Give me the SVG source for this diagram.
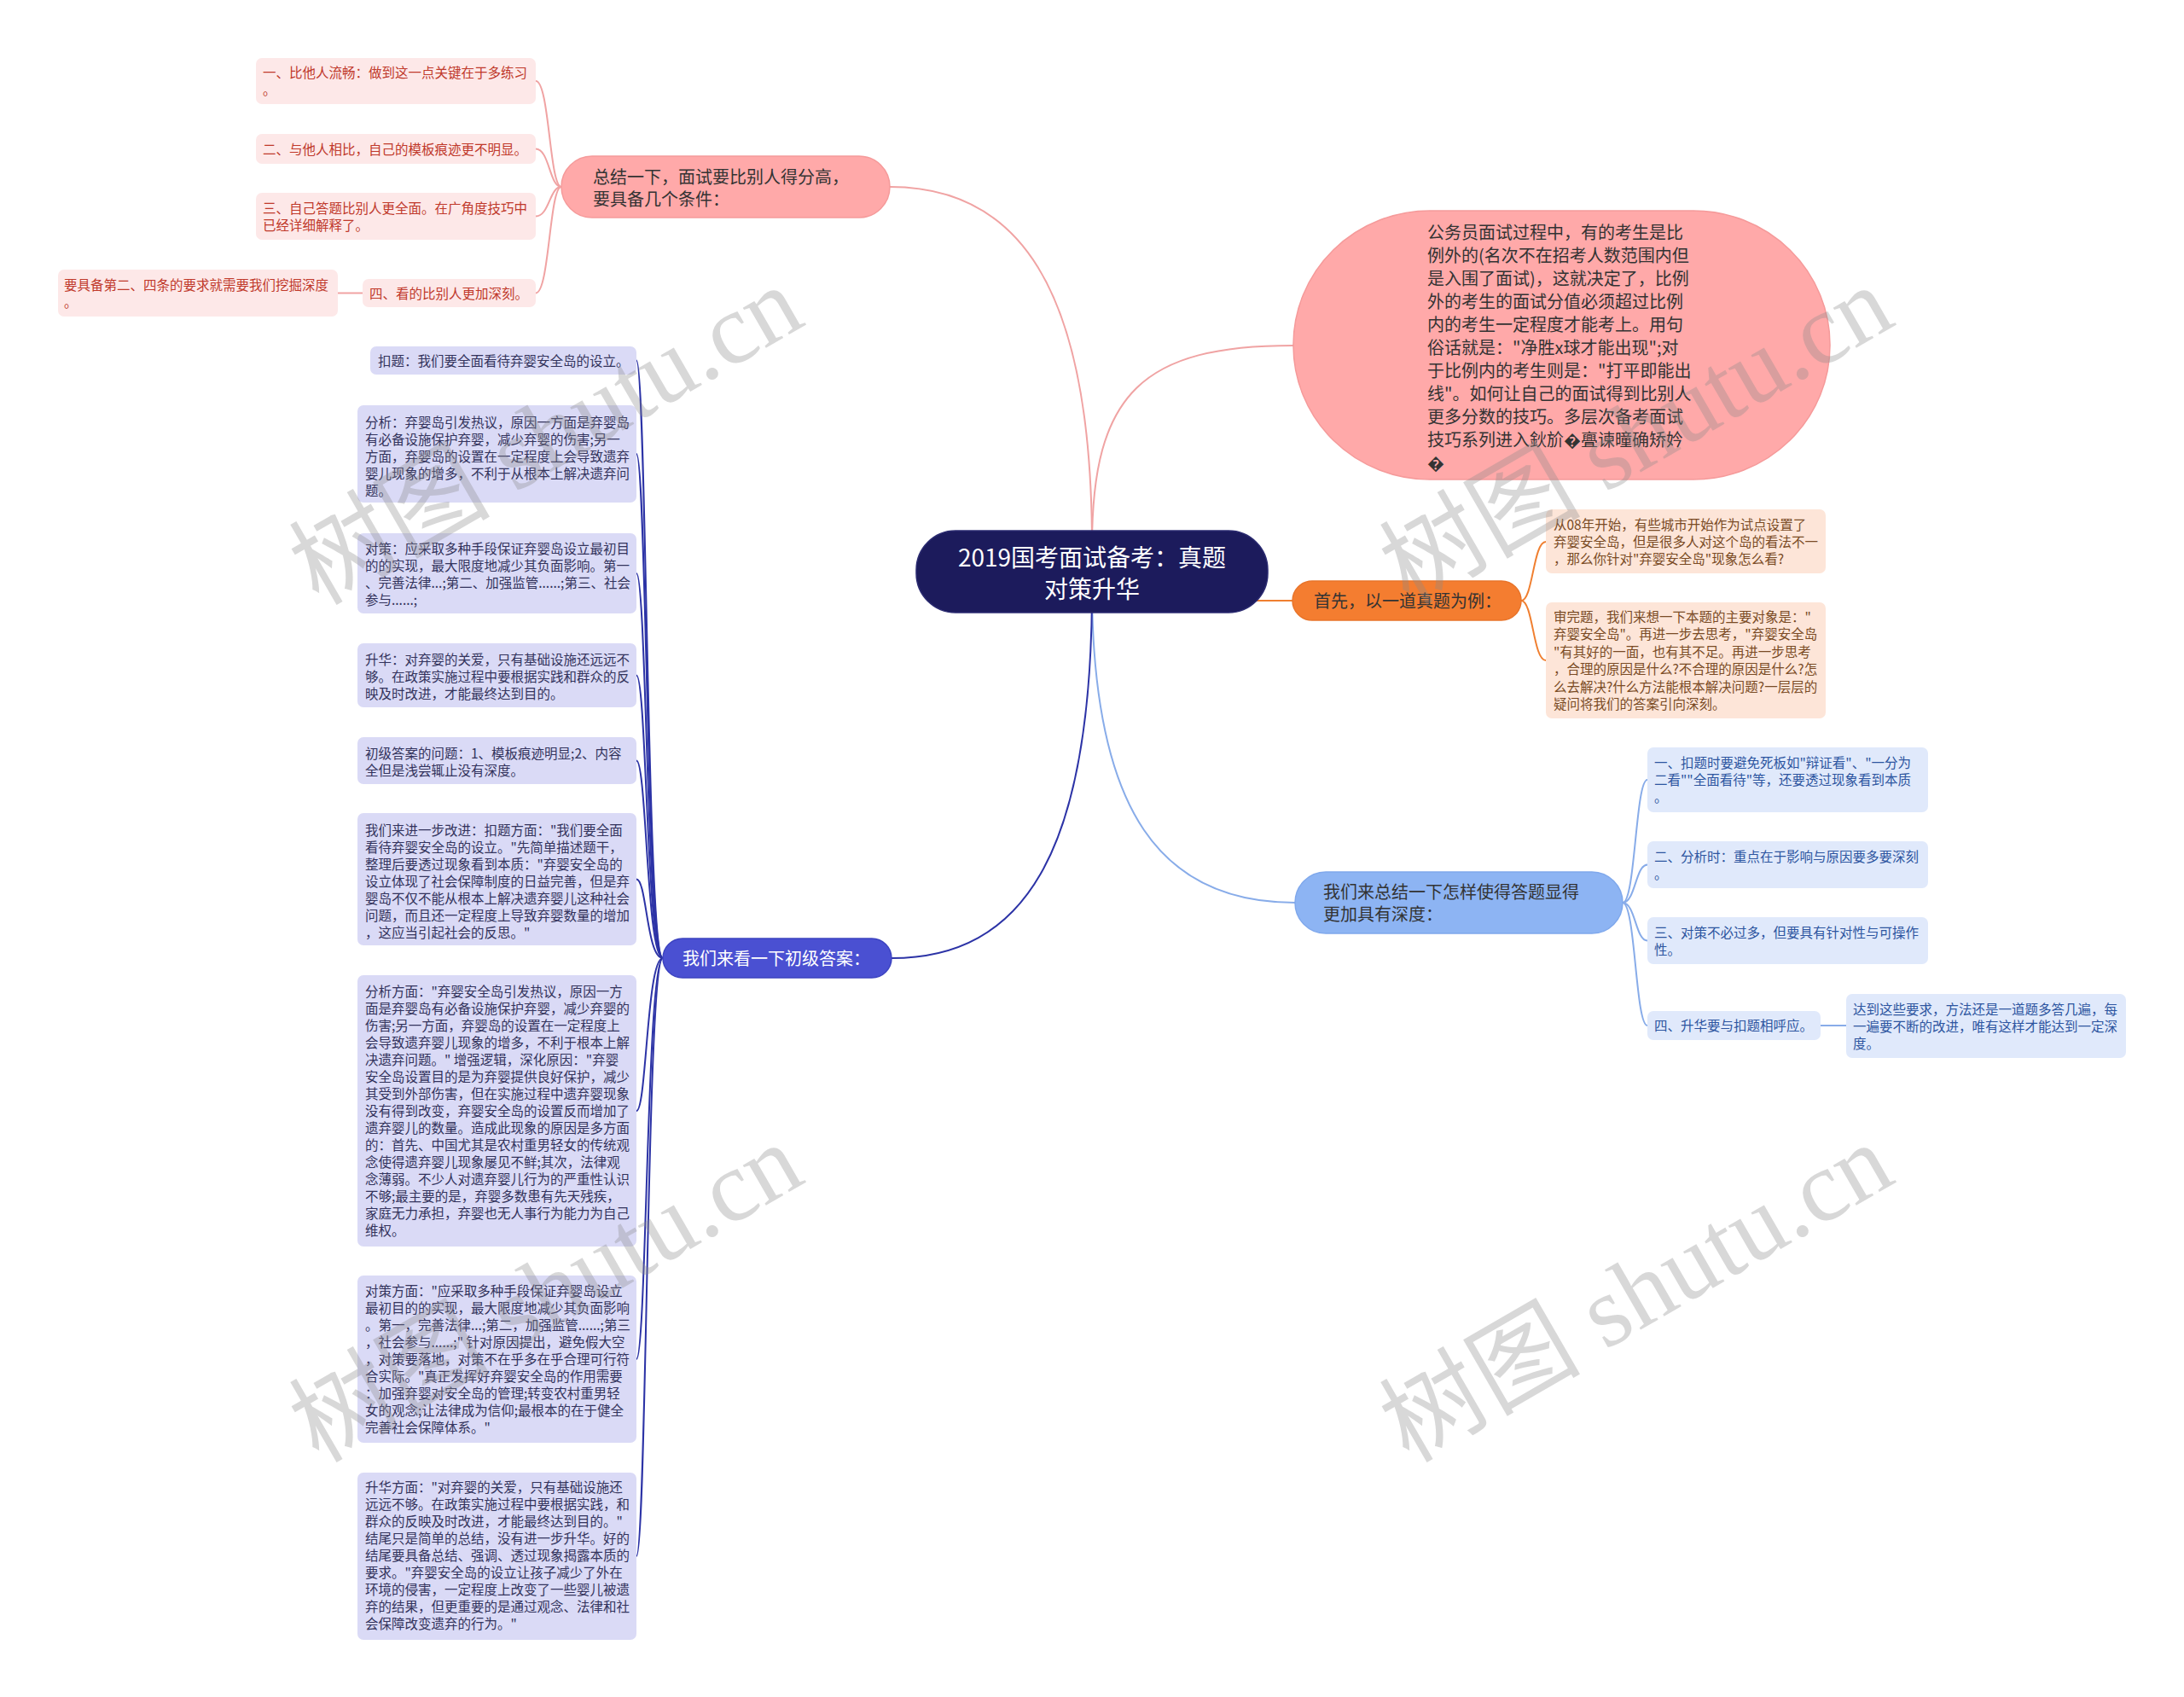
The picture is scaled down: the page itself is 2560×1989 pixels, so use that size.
<svg xmlns="http://www.w3.org/2000/svg" width="2560" height="1989" viewBox="0 0 2560 1989">
<style>
text { font-family: "Noto Sans CJK SC", "Noto Sans", sans-serif; }
.t20 { font-size: 20px; fill: #333333; }
.t15 { font-size: 15.5px; }
.root rect { fill: #1c1b5c; stroke: #2a2a70; stroke-width: 1.5; }
.root text { font-size: 28px; fill: #ffffff; text-anchor: middle; }
.pinkMain rect { fill: #ffa9a9; stroke: #f59a9a; stroke-width: 1.5; }
.pinkLeaf rect { fill: #fde8e8; }
.pinkLeaf text { fill: #c0392b; }
.orangeMain rect { fill: #f47d30; stroke: #e8742a; stroke-width: 1.5; }
.orangeLeaf rect { fill: #fde5d8; }
.orangeLeaf text { fill: #7a4b25; }
.blueMain rect { fill: #8db4f3; stroke: #7fa8ec; stroke-width: 1.5; }
.blueLeaf rect { fill: #e0e9fb; }
.blueLeaf text { fill: #2d55a0; }
.purpleMain rect { fill: #4a50d2; stroke: #3c43c0; stroke-width: 1.5; }
.purpleMain text { fill: #ffffff; }
.purpleLeaf rect { fill: #dadaf6; }
.purpleLeaf text { fill: #33335c; }
.c { fill: none; stroke-width: 2; }
.cPink { stroke: #f0a3a3; }
.cOrange { stroke: #f07f30; }
.cBlue { stroke: #88ace9; }
.cPurple { stroke: #2c33a6; }
.wm { font-family: "Liberation Serif", "Noto Sans CJK SC", serif; font-size: 118px; fill: #8a8a8a; opacity: 0.33; text-anchor: middle; }
</style>

<g id="connectors">
  <path class="c cPink" d="M 1280 640 C 1280 330, 1190 219, 1043 219"/>
  <path class="c cPink" d="M 1280 640 C 1280 460, 1340 405, 1516 405"/>
  <path class="c cOrange" d="M 1460 704 L 1515 704"/>
  <path class="c cBlue" d="M 1280 700 C 1283 950, 1360 1058, 1518 1058"/>
  <path class="c cPurple" d="M 1280 700 C 1278 1000, 1200 1123, 1045 1123"/>

  <path class="c cPink" d="M 658 219 C 644 219, 644 95, 628 95"/>
  <path class="c cPink" d="M 658 219 C 644 219, 644 174.5, 628 174.5"/>
  <path class="c cPink" d="M 658 219 C 644 219, 644 253.5, 628 253.5"/>
  <path class="c cPink" d="M 658 219 C 644 219, 644 343.5, 628 343.5"/>
  <path class="c cPink" d="M 425 343.5 L 396 343.5"/>

  <path class="c cOrange" d="M 1783 704 C 1797 704, 1797 635, 1812 635"/>
  <path class="c cOrange" d="M 1783 704 C 1797 704, 1797 774, 1812 774"/>

  <path class="c cBlue" d="M 1902 1058 C 1917 1058, 1917 914, 1931 914"/>
  <path class="c cBlue" d="M 1902 1058 C 1917 1058, 1917 1013.5, 1931 1013.5"/>
  <path class="c cBlue" d="M 1902 1058 C 1917 1058, 1917 1102.5, 1931 1102.5"/>
  <path class="c cBlue" d="M 1902 1058 C 1917 1058, 1917 1202, 1931 1202"/>
  <path class="c cBlue" d="M 2134 1202 L 2164 1202"/>

  <path class="c cPurple" d="M 777 1123 C 758 1123, 758 422.5, 746 422.5"/>
  <path class="c cPurple" d="M 777 1123 C 758 1123, 758 532, 746 532"/>
  <path class="c cPurple" d="M 777 1123 C 758 1123, 758 672, 746 672"/>
  <path class="c cPurple" d="M 777 1123 C 758 1123, 758 791.5, 746 791.5"/>
  <path class="c cPurple" d="M 777 1123 C 758 1123, 758 891.5, 746 891.5"/>
  <path class="c cPurple" d="M 777 1123 C 758 1123, 758 1030.5, 746 1030.5"/>
  <path class="c cPurple" d="M 777 1123 C 758 1123, 758 1302, 746 1302"/>
  <path class="c cPurple" d="M 777 1123 C 758 1123, 758 1593, 746 1593"/>
  <path class="c cPurple" d="M 777 1123 C 758 1123, 758 1824, 746 1824"/>
</g>

<g id="root" class="root">
  <rect x="1074" y="622" width="412" height="96" rx="46" ry="46"/>
  <text x="1280" y="664">2019国考面试备考：真题</text>
  <text x="1280" y="701">对策升华</text>
</g>

<g id="pink-main" class="pinkMain">
  <rect x="658" y="183" width="385" height="72" rx="36" ry="36"/>
  <text class="t20" x="695" y="214.5">总结一下，面试要比别人得分高，</text>
  <text class="t20" x="695" y="240.5">要具备几个条件：</text>
</g>
<g id="pink-1" class="pinkLeaf">
  <rect x="300" y="68" width="328" height="54" rx="7"/>
  <text class="t15" x="308" y="91">一、比他人流畅：做到这一点关键在于多练习</text>
  <text class="t15" x="308" y="111">。</text>
</g>
<g id="pink-2" class="pinkLeaf">
  <rect x="300" y="157" width="328" height="35" rx="7"/>
  <text class="t15" x="308" y="180.5">二、与他人相比，自己的模板痕迹更不明显。</text>
</g>
<g id="pink-3" class="pinkLeaf">
  <rect x="300" y="226" width="328" height="55" rx="7"/>
  <text class="t15" x="308" y="249.5">三、自己答题比别人更全面。在广角度技巧中</text>
  <text class="t15" x="308" y="269.5">已经详细解释了。</text>
</g>
<g id="pink-4" class="pinkLeaf">
  <rect x="425" y="327" width="203" height="33" rx="7"/>
  <text class="t15" x="433" y="349.5">四、看的比别人更加深刻。</text>
</g>
<g id="pink-4-1" class="pinkLeaf">
  <rect x="68" y="316" width="328" height="55" rx="7"/>
  <text class="t15" x="75" y="339.5">要具备第二、四条的要求就需要我们挖掘深度</text>
  <text class="t15" x="75" y="359.5">。</text>
</g>

<g id="pink-right" class="pinkMain">
  <rect x="1516" y="247" width="629" height="315" rx="160" ry="157"/>
  <text class="t20" x="1673" y="279.5">公务员面试过程中，有的考生是比</text>
  <text class="t20" x="1673" y="306.5">例外的(名次不在招考人数范围内但</text>
  <text class="t20" x="1673" y="333.5">是入围了面试)，这就决定了，比例</text>
  <text class="t20" x="1673" y="360.5">外的考生的面试分值必须超过比例</text>
  <text class="t20" x="1673" y="387.5">内的考生一定程度才能考上。用句</text>
  <text class="t20" x="1673" y="414.5">俗话就是："净胜x球才能出现";对</text>
  <text class="t20" x="1673" y="441.5">于比例内的考生则是："打平即能出</text>
  <text class="t20" x="1673" y="468.5">线"。如何让自己的面试得到比别人</text>
  <text class="t20" x="1673" y="495.5">更多分数的技巧。多层次备考面试</text>
  <text class="t20" x="1673" y="522.5">技巧系列进入鈥斺&#xFFFD;亹谏曈确矫妗</text>
  <text class="t20" x="1673" y="549.5">&#xFFFD;</text>
</g>

<g id="orange-main" class="orangeMain">
  <rect x="1515" y="681" width="268" height="46" rx="23" ry="23"/>
  <text class="t20" x="1540" y="711.5">首先，以一道真题为例：</text>
</g>
<g id="orange-1" class="orangeLeaf">
  <rect x="1812" y="597" width="328" height="75" rx="7"/>
  <text class="t15" x="1821" y="621">从08年开始，有些城市开始作为试点设置了</text>
  <text class="t15" x="1821" y="641">弃婴安全岛，但是很多人对这个岛的看法不一</text>
  <text class="t15" x="1821" y="661">，那么你针对"弃婴安全岛"现象怎么看?</text>
</g>
<g id="orange-2" class="orangeLeaf">
  <rect x="1812" y="706" width="328" height="136" rx="7"/>
  <text class="t15" x="1821" y="728.75">审完题，我们来想一下本题的主要对象是："</text>
  <text class="t15" x="1821" y="749.25">弃婴安全岛"。再进一步去思考，"弃婴安全岛</text>
  <text class="t15" x="1821" y="769.75">"有其好的一面，也有其不足。再进一步思考</text>
  <text class="t15" x="1821" y="790.25">，合理的原因是什么?不合理的原因是什么?怎</text>
  <text class="t15" x="1821" y="810.75">么去解决?什么方法能根本解决问题?一层层的</text>
  <text class="t15" x="1821" y="831.25">疑问将我们的答案引向深刻。</text>
</g>

<g id="blue-main" class="blueMain">
  <rect x="1518" y="1022" width="384" height="72" rx="36" ry="36"/>
  <text class="t20" x="1551" y="1052.5">我们来总结一下怎样使得答题显得</text>
  <text class="t20" x="1551" y="1078.5">更加具有深度：</text>
</g>
<g id="blue-1" class="blueLeaf">
  <rect x="1931" y="876" width="329" height="76" rx="7"/>
  <text class="t15" x="1939" y="900">一、扣题时要避免死板如"辩证看"、"一分为</text>
  <text class="t15" x="1939" y="920">二看""全面看待"等，还要透过现象看到本质</text>
  <text class="t15" x="1939" y="940">。</text>
</g>
<g id="blue-2" class="blueLeaf">
  <rect x="1931" y="986" width="329" height="55" rx="7"/>
  <text class="t15" x="1939" y="1010">二、分析时：重点在于影响与原因要多要深刻</text>
  <text class="t15" x="1939" y="1030">。</text>
</g>
<g id="blue-3" class="blueLeaf">
  <rect x="1931" y="1075" width="329" height="55" rx="7"/>
  <text class="t15" x="1939" y="1099">三、对策不必过多，但要具有针对性与可操作</text>
  <text class="t15" x="1939" y="1119">性。</text>
</g>
<g id="blue-4" class="blueLeaf">
  <rect x="1931" y="1185" width="203" height="34" rx="7"/>
  <text class="t15" x="1939" y="1208">四、升华要与扣题相呼应。</text>
</g>
<g id="blue-4-1" class="blueLeaf">
  <rect x="2164" y="1165" width="328" height="75" rx="7"/>
  <text class="t15" x="2172" y="1189">达到这些要求，方法还是一道题多答几遍，每</text>
  <text class="t15" x="2172" y="1209">一遍要不断的改进，唯有这样才能达到一定深</text>
  <text class="t15" x="2172" y="1229">度。</text>
</g>

<g id="purple-main" class="purpleMain">
  <rect x="777" y="1100" width="268" height="46" rx="23" ry="23"/>
  <text class="t20" x="800" y="1130.5" style="fill:#ffffff">我们来看一下初级答案：</text>
</g>
<g id="purple-1" class="purpleLeaf">
  <rect x="434" y="406" width="312" height="33" rx="7"/>
  <text class="t15" x="443" y="428.5">扣题：我们要全面看待弃婴安全岛的设立。</text>
</g>
<g id="purple-2" class="purpleLeaf">
  <rect x="419" y="475" width="327" height="114" rx="7"/>
  <text class="t15" x="428" y="501">分析：弃婴岛引发热议，原因一方面是弃婴岛</text>
  <text class="t15" x="428" y="521">有必备设施保护弃婴，减少弃婴的伤害;另一</text>
  <text class="t15" x="428" y="541">方面，弃婴岛的设置在一定程度上会导致遗弃</text>
  <text class="t15" x="428" y="561">婴儿现象的增多，不利于从根本上解决遗弃问</text>
  <text class="t15" x="428" y="581">题。</text>
</g>
<g id="purple-3" class="purpleLeaf">
  <rect x="419" y="625" width="327" height="94" rx="7"/>
  <text class="t15" x="428" y="649">对策：应采取多种手段保证弃婴岛设立最初目</text>
  <text class="t15" x="428" y="669">的的实现，最大限度地减少其负面影响。第一</text>
  <text class="t15" x="428" y="689">、完善法律...;第二、加强监管......;第三、社会</text>
  <text class="t15" x="428" y="709">参与......;</text>
</g>
<g id="purple-4" class="purpleLeaf">
  <rect x="419" y="754" width="327" height="75" rx="7"/>
  <text class="t15" x="428" y="779">升华：对弃婴的关爱，只有基础设施还远远不</text>
  <text class="t15" x="428" y="799">够。在政策实施过程中要根据实践和群众的反</text>
  <text class="t15" x="428" y="819">映及时改进，才能最终达到目的。</text>
</g>
<g id="purple-5" class="purpleLeaf">
  <rect x="419" y="864" width="327" height="55" rx="7"/>
  <text class="t15" x="428" y="889">初级答案的问题：1、模板痕迹明显;2、内容</text>
  <text class="t15" x="428" y="909">全但是浅尝辄止没有深度。</text>
</g>
<g id="purple-6" class="purpleLeaf">
  <rect x="419" y="953" width="327" height="155" rx="7"/>
  <text class="t15" x="428" y="979">我们来进一步改进：扣题方面："我们要全面</text>
  <text class="t15" x="428" y="999">看待弃婴安全岛的设立。"先简单描述题干，</text>
  <text class="t15" x="428" y="1019">整理后要透过现象看到本质："弃婴安全岛的</text>
  <text class="t15" x="428" y="1039">设立体现了社会保障制度的日益完善，但是弃</text>
  <text class="t15" x="428" y="1059">婴岛不仅不能从根本上解决遗弃婴儿这种社会</text>
  <text class="t15" x="428" y="1079">问题，而且还一定程度上导致弃婴数量的增加</text>
  <text class="t15" x="428" y="1099">，这应当引起社会的反思。"</text>
</g>
<g id="purple-7" class="purpleLeaf">
  <rect x="419" y="1143" width="327" height="318" rx="7"/>
  <text class="t15" x="428" y="1168">分析方面："弃婴安全岛引发热议，原因一方</text>
  <text class="t15" x="428" y="1188">面是弃婴岛有必备设施保护弃婴，减少弃婴的</text>
  <text class="t15" x="428" y="1208">伤害;另一方面，弃婴岛的设置在一定程度上</text>
  <text class="t15" x="428" y="1228">会导致遗弃婴儿现象的增多，不利于根本上解</text>
  <text class="t15" x="428" y="1248">决遗弃问题。" 增强逻辑，深化原因："弃婴</text>
  <text class="t15" x="428" y="1268">安全岛设置目的是为弃婴提供良好保护，减少</text>
  <text class="t15" x="428" y="1288">其受到外部伤害，但在实施过程中遗弃婴现象</text>
  <text class="t15" x="428" y="1308">没有得到改变，弃婴安全岛的设置反而增加了</text>
  <text class="t15" x="428" y="1328">遗弃婴儿的数量。造成此现象的原因是多方面</text>
  <text class="t15" x="428" y="1348">的：首先、中国尤其是农村重男轻女的传统观</text>
  <text class="t15" x="428" y="1368">念使得遗弃婴儿现象屡见不鲜;其次，法律观</text>
  <text class="t15" x="428" y="1388">念薄弱。不少人对遗弃婴儿行为的严重性认识</text>
  <text class="t15" x="428" y="1408">不够;最主要的是，弃婴多数患有先天残疾，</text>
  <text class="t15" x="428" y="1428">家庭无力承担，弃婴也无人事行为能力为自己</text>
  <text class="t15" x="428" y="1448">维权。</text>
</g>
<g id="purple-8" class="purpleLeaf">
  <rect x="419" y="1495" width="327" height="196" rx="7"/>
  <text class="t15" x="428" y="1519">对策方面："应采取多种手段保证弃婴岛设立</text>
  <text class="t15" x="428" y="1539">最初目的的实现，最大限度地减少其负面影响</text>
  <text class="t15" x="428" y="1559">。第一，完善法律...;第二，加强监管......;第三</text>
  <text class="t15" x="428" y="1579">，社会参与......;" 针对原因提出，避免假大空</text>
  <text class="t15" x="428" y="1599">，对策要落地，对策不在乎多在乎合理可行符</text>
  <text class="t15" x="428" y="1619">合实际。"真正发挥好弃婴安全岛的作用需要</text>
  <text class="t15" x="428" y="1639">：加强弃婴对安全岛的管理;转变农村重男轻</text>
  <text class="t15" x="428" y="1659">女的观念;让法律成为信仰;最根本的在于健全</text>
  <text class="t15" x="428" y="1679">完善社会保障体系。"</text>
</g>
<g id="purple-9" class="purpleLeaf">
  <rect x="419" y="1726" width="327" height="196" rx="7"/>
  <text class="t15" x="428" y="1749">升华方面："对弃婴的关爱，只有基础设施还</text>
  <text class="t15" x="428" y="1769">远远不够。在政策实施过程中要根据实践，和</text>
  <text class="t15" x="428" y="1789">群众的反映及时改进，才能最终达到目的。"</text>
  <text class="t15" x="428" y="1809">结尾只是简单的总结，没有进一步升华。好的</text>
  <text class="t15" x="428" y="1829">结尾要具备总结、强调、透过现象揭露本质的</text>
  <text class="t15" x="428" y="1849">要求。"弃婴安全岛的设立让孩子减少了外在</text>
  <text class="t15" x="428" y="1869">环境的侵害，一定程度上改变了一些婴儿被遗</text>
  <text class="t15" x="428" y="1889">弃的结果，但更重要的是通过观念、法律和社</text>
  <text class="t15" x="428" y="1909">会保障改变遗弃的行为。"</text>
</g>

<g id="watermarks">
  <text class="wm" transform="translate(660 545) rotate(-30)">树图 shutu.cn</text>
  <text class="wm" transform="translate(1938 545) rotate(-30)">树图 shutu.cn</text>
  <text class="wm" transform="translate(660 1550) rotate(-30)">树图 shutu.cn</text>
  <text class="wm" transform="translate(1938 1550) rotate(-30)">树图 shutu.cn</text>
</g>
</svg>
